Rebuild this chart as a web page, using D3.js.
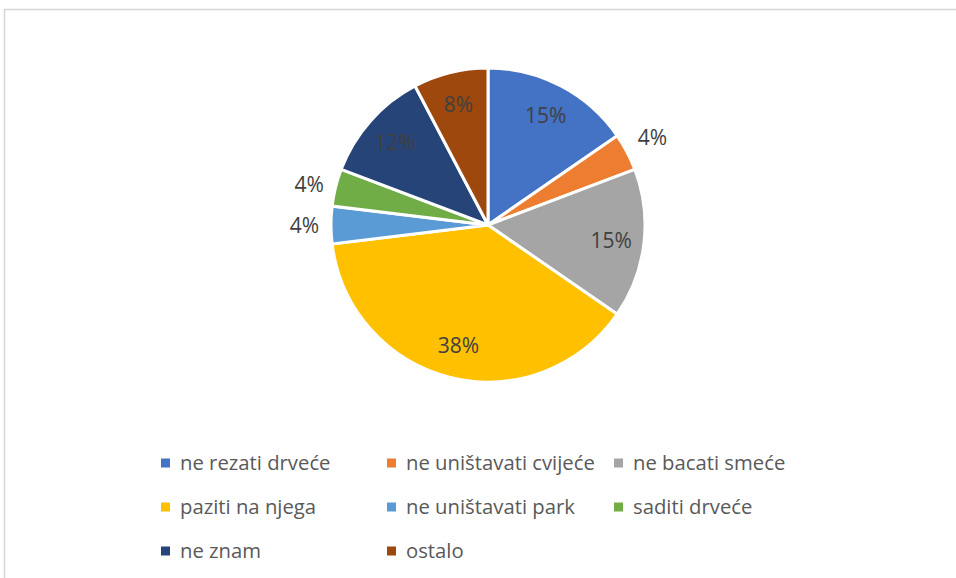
<!DOCTYPE html>
<meta charset="utf-8">
<title>Pie</title>
<style>
body { margin: 0; background: #fff; }
.lbl { font: 21px "Open Sans", sans-serif; fill: #404040; }
.legend text { font: 20.3px "Open Sans", sans-serif; fill: #595959; }
</style>
<svg width="956" height="578"></svg>
<script src="https://cdn.jsdelivr.net/npm/d3@7"></script>
<script>

var categories = ["ne rezati drveće", "ne uništavati cvijeće", "ne bacati smeće", "paziti na njega",
                  "ne uništavati park", "saditi drveće", "ne znam", "ostalo"];
var counts = [4, 1, 4, 10, 1, 1, 3, 2];
var colors = ["#4472C4", "#ED7D31", "#A5A5A5", "#FFC000", "#5B9BD5", "#70AD47", "#264478", "#9E480E"];
// which labels Excel pushed outside the slice
var outside = [false, true, false, false, true, true, false, false];

var svg = d3.select("svg");

svg.append("rect")
    .attr("x", 4.5).attr("y", 9.5)
    .attr("width", 1000).attr("height", 700)
    .attr("fill", "none")
    .attr("stroke", "#d6d6d6")
    .attr("stroke-width", 1.5);

var cx = 488, cy = 225, r = 157;
var total = d3.sum(counts);

var pie = d3.pie().sort(null).value(function(d) { return d; });
var arcs = pie(counts);
var arc = d3.arc().innerRadius(0).outerRadius(r);

var g = svg.append("g").attr("transform", "translate(" + cx + "," + cy + ")");

g.selectAll("path")
    .data(arcs)
  .enter().append("path")
    .attr("d", arc)
    .attr("fill", function(d, i) { return colors[i]; })
    .attr("stroke", "#fff")
    .attr("stroke-width", 3);

var inArc = d3.arc().innerRadius(124).outerRadius(124);
var outArc = d3.arc().innerRadius(r + 12).outerRadius(r + 12);

g.selectAll(".lbl")
    .data(arcs)
  .enter().append("text")
    .attr("class", "lbl")
    .attr("transform", function(d, i) {
      var p = outside[i] ? outArc.centroid(d) : inArc.centroid(d);
      // right-hand outside labels sit a bit higher, clear of the arc
      if (outside[i] && p[0] > 0) p[1] -= 9;
      return "translate(" + p + ")";
    })
    .attr("dy", ".36em")
    .attr("text-anchor", function(d, i) {
      if (!outside[i]) return "middle";
      return (d.startAngle + d.endAngle) / 2 < Math.PI ? "start" : "end";
    })
    .text(function(d) { return Math.round(d.value / total * 100) + "%"; });

var colX = [161, 387, 614], rowY = [463, 507, 551];

var item = svg.append("g").attr("class", "legend")
  .selectAll("g")
    .data(categories)
  .enter().append("g")
    .attr("transform", function(d, i) {
      return "translate(" + colX[i % 3] + "," + rowY[Math.floor(i / 3)] + ")";
    });

item.append("rect")
    .attr("x", 0).attr("y", -4.5)
    .attr("width", 9).attr("height", 9)
    .attr("fill", function(d, i) { return colors[i]; });

item.append("text")
    .attr("x", 19)
    .attr("dy", ".35em")
    .text(function(d) { return d; });

</script>
